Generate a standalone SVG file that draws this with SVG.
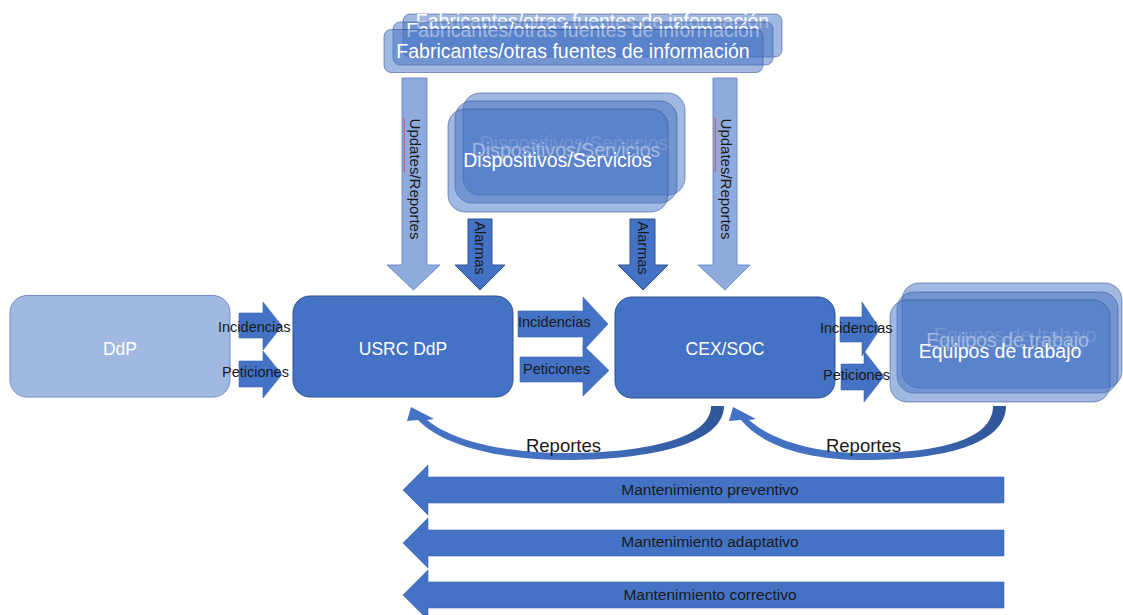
<svg xmlns="http://www.w3.org/2000/svg" width="1123" height="615" viewBox="0 0 1123 615">
  <defs>
    <style>
      .stack { fill: #4472C4; fill-opacity: 0.5; stroke: #2F528F; stroke-opacity: 0.55; stroke-width: 1; }
      .solid { fill: #4472C4; stroke: #2F528F; stroke-width: 1; }
      .light { fill: #A1B8E1; stroke: #6F8FCF; stroke-width: 1; }
      .upd { fill: #8FAADC; stroke: #5B7FC6; stroke-width: 0.8; }
      .flow { fill: #4472C4; stroke: #3A64B0; stroke-width: 0.6; }
      .wtxt { font-family: "Liberation Sans", Arial, sans-serif; fill: #FFFFFF; text-anchor: middle; }
      .big { font-size: 19.5px; }
      .mid { font-size: 17.5px; }
      .lbl { font-family: "Liberation Sans", Arial, sans-serif; font-size: 14.5px; fill: #1A1A1A; }
      .mnt { font-family: "Liberation Sans", Arial, sans-serif; font-size: 15.5px; fill: #1A1A1A; text-anchor: middle; }
      .rep { font-family: "Liberation Sans", Arial, sans-serif; font-size: 18.5px; fill: #1A1A1A; text-anchor: middle; }
      .vert { font-family: "Liberation Sans", Arial, sans-serif; font-size: 15px; fill: #1A1A1A; text-anchor: middle; }
    </style>
    <linearGradient id="curveFill" x1="0" y1="0" x2="1" y2="0">
      <stop offset="0" stop-color="#4472C4"/>
      <stop offset="0.55" stop-color="#4470C0"/>
      <stop offset="1" stop-color="#2E5596"/>
    </linearGradient>
  </defs>

  <rect width="1123" height="615" fill="#FFFFFF"/>

  <!-- Connectors: block arrows -->
  <g id="connectors">
    <!-- Updates/Reportes (light) -->
    <path class="upd" d="M402,78 H427 V265 H440 L413.5,290 L387,265 H402 Z"/>
    <path class="upd" d="M713,78 H737 V265 H750 L725,290 L698,265 H713 Z"/>
    <!-- Alarmas -->
    <path class="solid" d="M468,219 H492 V265 H505 L480,290 L455,265 H468 Z"/>
    <path class="solid" d="M630,219 H655 V265 H668 L643,290 L618,265 H630 Z"/>

    <!-- DdP -> USRC DdP -->
    <path class="flow" d="M239,313 H263 V302 L282,326 L263,350 V338 H239 Z"/>
    <path class="flow" d="M239,361 H263 V351 L282,374.5 L263,398 V387 H239 Z"/>
    <!-- USRC DdP -> CEX/SOC -->
    <path class="flow" d="M518,311 H583 V297 L608,324 L583,351 V337 H518 Z"/>
    <path class="flow" d="M520,357 H583 V345 L609,370.5 L583,396 V382 H520 Z"/>
    <!-- CEX/SOC -> Equipos de trabajo -->
    <path class="flow" d="M840,317 H862 V302 L880,329 L862,356 V342 H840 Z"/>
    <path class="flow" d="M841,364 H864 V351 L884,376.5 L864,402 V390 H841 Z"/>

    <!-- Reportes curved arrows -->
    <path fill="url(#curveFill)" d="M724,406 C724,445 645,460 567,460 C492,460 440,443 418,420 L407,421 L411,407 L434,419 L427,420 C452,440 500,453 567,453 C640,453 711,440 711,406 Z"/>
    <path fill="url(#curveFill)" d="M1006,406 C1006,445 940,460 867,460 C800,460 760,443 741,420 L729,421 L733,407 L756,419 L749,420 C772,440 812,453 867,453 C938,453 993,440 993,406 Z"/>

    <!-- Maintenance arrows -->
    <path class="flow" d="M1004,477 V503 H428 V515 L403,490 L428,465 V477 Z"/>
    <path class="flow" d="M1004,530 V556 H428 V568 L403,543 L428,518 V530 Z"/>
    <path class="flow" d="M1004,582 V608 H428 V620 L403,595 L428,570 V582 Z"/>
  </g>

  <!-- Fabricantes / other information sources (stacked) -->
  <g id="fabricantes">
    <rect class="stack" x="403" y="14" width="379" height="43" rx="7"/>
    <text class="wtxt big" x="592.5" y="28">Fabricantes/otras fuentes de información</text>
    <rect class="stack" x="393" y="22" width="380" height="43" rx="7"/>
    <text class="wtxt big" x="583" y="37">Fabricantes/otras fuentes de información</text>
    <rect class="stack" x="384" y="29.5" width="379" height="43" rx="7"/>
    <text class="wtxt big" x="573" y="58">Fabricantes/otras fuentes de información</text>
  </g>

  <!-- Devices / services (stacked) -->
  <g id="dispositivos">
    <rect class="stack" x="463" y="93" width="222" height="102" rx="17"/>
    <text class="wtxt big" x="574" y="150">Dispositivos/Servicios</text>
    <rect class="stack" x="455" y="101" width="222" height="102" rx="17"/>
    <text class="wtxt big" x="566" y="157">Dispositivos/Servicios</text>
    <rect class="stack" x="448" y="109" width="220" height="103" rx="17"/>
    <text class="wtxt big" x="557.5" y="167">Dispositivos/Servicios</text>
  </g>

  <!-- DdP -->
  <g id="ddp">
    <rect class="light" x="10" y="295.5" width="220" height="101.5" rx="17"/>
    <text class="wtxt mid" x="120" y="355">DdP</text>
  </g>

  <!-- USRC DdP -->
  <g id="usrc-ddp">
    <rect class="solid" x="293" y="296" width="220" height="101" rx="17"/>
    <text class="wtxt mid" x="403" y="355">USRC DdP</text>
  </g>

  <!-- CEX/SOC -->
  <g id="cex-soc">
    <rect class="solid" x="615" y="297" width="220" height="101" rx="17"/>
    <text class="wtxt mid" x="725" y="355">CEX/SOC</text>
  </g>

  <!-- Work teams (stacked) -->
  <g id="equipos">
    <rect class="stack" x="902" y="283" width="220" height="105" rx="17"/>
    <text class="wtxt big" x="1015" y="342">Equipos de trabajo</text>
    <rect class="stack" x="897" y="292" width="221" height="101" rx="17"/>
    <text class="wtxt big" x="1007.5" y="347">Equipos de trabajo</text>
    <rect class="stack" x="890" y="300" width="220" height="102" rx="17"/>
    <text class="wtxt big" x="1000" y="358">Equipos de trabajo</text>
  </g>

  <!-- Connector labels, drawn above the boxes they overlap -->
  <g id="connector-labels">
    <text class="vert" transform="translate(414.5,179) rotate(90)" y="5">Updates/Reportes</text>
    <text class="vert" transform="translate(725.5,179) rotate(90)" y="5">Updates/Reportes</text>
    <polyline fill="none" stroke="#E03A3A" stroke-width="0.8" points="405,118 403.5,120 405,122 403.5,124 405,126 403.5,128 405,130 403.5,132 405,134 403.5,136 405,138 403.5,140 405,142 403.5,144 405,146 403.5,148 405,150 403.5,152 405,154 403.5,156 405,158 403.5,160 405,162 403.5,164 405,166 403.5,168 405,170 403.5,172"/>
    <polyline fill="none" stroke="#E03A3A" stroke-width="0.8" points="716,118 714.5,120 716,122 714.5,124 716,126 714.5,128 716,130 714.5,132 716,134 714.5,136 716,138 714.5,140 716,142 714.5,144 716,146 714.5,148 716,150 714.5,152 716,154 714.5,156 716,158 714.5,160 716,162 714.5,164 716,166 714.5,168 716,170 714.5,172"/>
    <text class="vert" style="font-size:14.5px" transform="translate(480,248) rotate(90)" y="5">Alarmas</text>
    <text class="vert" style="font-size:14.5px" transform="translate(643,248) rotate(90)" y="5">Alarmas</text>

    <text class="lbl" x="218" y="332">Incidencias</text>
    <text class="lbl" x="222" y="377">Peticiones</text>
    <text class="lbl" x="518" y="327">Incidencias</text>
    <text class="lbl" x="523" y="374">Peticiones</text>
    <text class="lbl" x="820" y="333">Incidencias</text>
    <text class="lbl" x="823" y="380">Peticiones</text>

    <text class="rep" x="563.5" y="452">Reportes</text>
    <text class="rep" x="863.5" y="452">Reportes</text>

    <text class="mnt" x="710" y="495">Mantenimiento preventivo</text>
    <text class="mnt" x="710" y="547">Mantenimiento adaptativo</text>
    <text class="mnt" x="710" y="600">Mantenimiento correctivo</text>
  </g>
</svg>
